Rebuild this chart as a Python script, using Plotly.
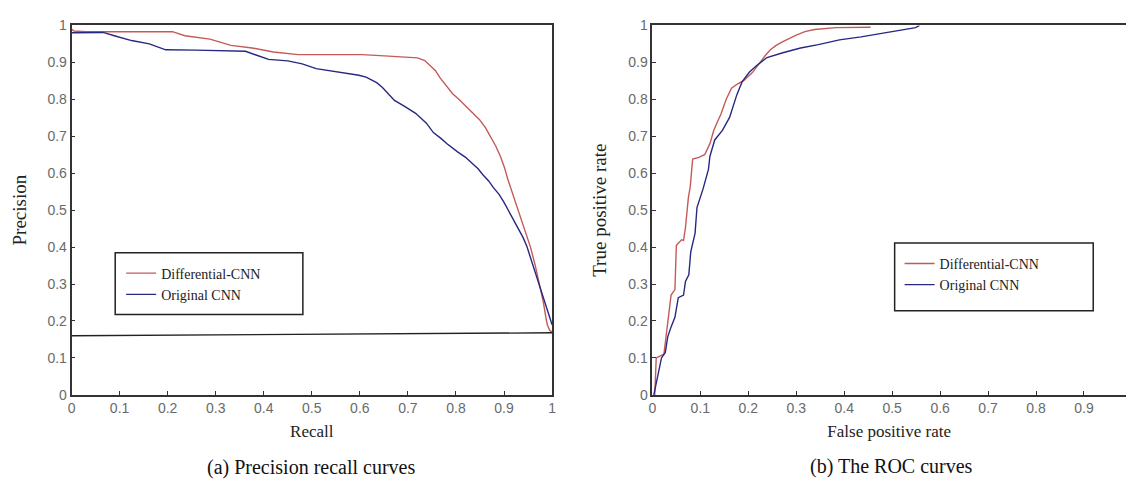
import plotly.graph_objects as go

# ---------------- data ----------------
pr_diff_recall = [0.0, 0.005, 0.03, 0.10, 0.21, 0.236, 0.288, 0.332, 0.376, 0.42, 0.472, 0.54,
                  0.605, 0.66, 0.70, 0.72, 0.735, 0.745, 0.757, 0.767, 0.78, 0.793, 0.806, 0.819,
                  0.834, 0.849, 0.861, 0.871, 0.883, 0.893, 0.901, 0.908, 0.917, 0.926, 0.935,
                  0.945, 0.955, 0.965, 0.974, 0.982, 0.987, 0.99, 0.995, 1.0]
pr_diff_precision = [0.99, 0.985, 0.983, 0.983, 0.983, 0.972, 0.963, 0.946, 0.939, 0.928, 0.921, 0.921,
                     0.921, 0.917, 0.913, 0.912, 0.905, 0.893, 0.878, 0.858, 0.837, 0.815, 0.80, 0.784,
                     0.765, 0.745, 0.724, 0.70, 0.673, 0.644, 0.615, 0.583, 0.548, 0.513, 0.48,
                     0.443, 0.40, 0.35, 0.30, 0.25, 0.21, 0.19, 0.175, 0.17]

pr_orig_recall = [0.0, 0.066, 0.089, 0.125, 0.162, 0.196, 0.258, 0.30, 0.362, 0.384, 0.41, 0.45,
                  0.48, 0.509, 0.546, 0.576, 0.598, 0.613, 0.625, 0.635, 0.647, 0.657, 0.672, 0.694,
                  0.716, 0.738, 0.753, 0.768, 0.782, 0.804, 0.82, 0.834, 0.846, 0.856, 0.868, 0.878,
                  0.89, 0.90, 0.915, 0.93, 0.94, 0.948, 0.96, 0.973, 0.984, 0.994, 1.0]
pr_orig_precision = [0.98, 0.981, 0.972, 0.959, 0.95, 0.934, 0.933, 0.931, 0.93, 0.92, 0.908, 0.904,
                     0.896, 0.883, 0.876, 0.87, 0.865, 0.86, 0.853, 0.845, 0.832, 0.819, 0.797, 0.78,
                     0.762, 0.736, 0.71, 0.695, 0.679, 0.657, 0.643, 0.626, 0.612, 0.596, 0.579, 0.561,
                     0.542, 0.521, 0.486, 0.451, 0.425, 0.40, 0.35, 0.30, 0.25, 0.21, 0.19]

baseline_recall = [0.0, 1.0]
baseline_precision = [0.16, 0.168]

roc_diff_fpr = [0.005, 0.008, 0.024, 0.032, 0.039, 0.047, 0.05, 0.061, 0.065, 0.069, 0.075, 0.079,
                0.084, 0.097, 0.109, 0.12, 0.128, 0.136, 0.143, 0.154, 0.165, 0.178, 0.191, 0.209,
                0.224, 0.235, 0.246, 0.258, 0.272, 0.286, 0.30, 0.318, 0.338, 0.383, 0.455]
roc_diff_tpr = [0.0, 0.10, 0.11, 0.19, 0.27, 0.285, 0.405, 0.42, 0.418, 0.453, 0.533, 0.564,
                0.638, 0.643, 0.65, 0.68, 0.716, 0.74, 0.76, 0.80, 0.83, 0.842, 0.851, 0.873,
                0.90, 0.918, 0.934, 0.946, 0.956, 0.966, 0.974, 0.983, 0.989, 0.994, 0.995]

roc_orig_fpr = [0.003, 0.01, 0.019, 0.027, 0.032, 0.039, 0.047, 0.054, 0.065, 0.069, 0.076, 0.08,
                0.086, 0.089, 0.093, 0.106, 0.117, 0.12, 0.13, 0.146, 0.161, 0.172, 0.176,
                0.187, 0.202, 0.217, 0.239, 0.272, 0.309, 0.346, 0.39, 0.435, 0.479, 0.523,
                0.549, 0.557]
roc_orig_tpr = [0.0, 0.045, 0.10, 0.115, 0.157, 0.184, 0.21, 0.263, 0.27, 0.307, 0.325, 0.387,
                0.42, 0.437, 0.507, 0.559, 0.611, 0.646, 0.69, 0.716, 0.751, 0.795, 0.812,
                0.847, 0.873, 0.891, 0.913, 0.926, 0.939, 0.948, 0.961, 0.969, 0.978, 0.987,
                0.994, 1.0]

tick_vals = [0, 0.1, 0.2, 0.3, 0.4, 0.5, 0.6, 0.7, 0.8, 0.9, 1]
tick_text = ["0", "0.1", "0.2", "0.3", "0.4", "0.5", "0.6", "0.7", "0.8", "0.9", "1"]

names = ["Differential-CNN", "Original CNN"]

# ---------------- styling ----------------
W, H = 1130, 488
RED = "rgb(196,90,88)"
BLUE = "rgb(40,40,130)"
AX = "#333333"
TICKFONT = dict(family="Liberation Sans, Arial, sans-serif", size=14, color="#6a6a6a")
XTITLEFONT = dict(family="Liberation Serif, Times New Roman, serif", size=17, color="#222222")
YTITLEFONT = dict(family="Liberation Serif, Times New Roman, serif", size=19, color="#222222")
LEGFONT = dict(family="Liberation Serif, Times New Roman, serif", size=14, color="#222222")


def px_x(p):
    return p / W


def px_y(p):
    return 1 - p / H


fig = go.Figure()

# left subplot
fig.add_trace(go.Scatter(x=pr_diff_recall, y=pr_diff_precision, mode="lines", name=names[0],
                         line=dict(color=RED, width=1.4), xaxis="x", yaxis="y", legend="legend"))
fig.add_trace(go.Scatter(x=pr_orig_recall, y=pr_orig_precision, mode="lines", name=names[1],
                         line=dict(color=BLUE, width=1.4), xaxis="x", yaxis="y", legend="legend"))
fig.add_trace(go.Scatter(x=baseline_recall, y=baseline_precision, mode="lines", showlegend=False,
                         line=dict(color="#222222", width=1.4), xaxis="x", yaxis="y"))

# right subplot
fig.add_trace(go.Scatter(x=roc_diff_fpr, y=roc_diff_tpr, mode="lines", name=names[0],
                         line=dict(color=RED, width=1.4), xaxis="x2", yaxis="y2", legend="legend2"))
fig.add_trace(go.Scatter(x=roc_orig_fpr, y=roc_orig_tpr, mode="lines", name=names[1],
                         line=dict(color=BLUE, width=1.4), xaxis="x2", yaxis="y2", legend="legend2"))

ydom = [px_y(400), px_y(18)]
common_axis = dict(showgrid=False, zeroline=False, showline=True, linecolor=AX, linewidth=1.6,
                   ticks="inside", ticklen=4, tickwidth=1.2, tickcolor=AX, tickfont=TICKFONT,
                   tickvals=tick_vals, ticktext=tick_text)

fig.update_layout(
    width=W, height=H,
    margin=dict(l=0, r=0, t=0, b=0),
    paper_bgcolor="white", plot_bgcolor="white",
    xaxis=dict(domain=[px_x(68), px_x(552)], range=[0, 1], mirror=True, anchor="y",
               title=dict(text="Recall", font=XTITLEFONT, standoff=10), **common_axis),
    yaxis=dict(domain=ydom, range=[0, 1], mirror=True, anchor="x",
               title=dict(text="Precision", font=YTITLEFONT, standoff=16), **common_axis),
    xaxis2=dict(domain=[px_x(653), 1.0], range=[0, (W - 653) / 483.0], mirror=True, anchor="y2",
                title=dict(text="False positive rate", font=XTITLEFONT, standoff=10), **common_axis),
    yaxis2=dict(domain=ydom, range=[0, 1], mirror=False, anchor="x2",
                title=dict(text="True positive rate", font=YTITLEFONT, standoff=17), **common_axis),
    legend=dict(x=px_x(118), y=px_y(258), xanchor="left", yanchor="top", bgcolor="rgba(0,0,0,0)",
                borderwidth=0, font=LEGFONT, tracegroupgap=0, itemwidth=30),
    legend2=dict(x=px_x(902), y=px_y(248), xanchor="left", yanchor="top", bgcolor="rgba(0,0,0,0)",
                 borderwidth=0, font=LEGFONT, tracegroupgap=0, itemwidth=30),
    shapes=[
        dict(type="rect", xref="paper", yref="paper", x0=px_x(112), x1=px_x(301),
             y0=px_y(317), y1=px_y(253), line=dict(color="#222222", width=1.5), fillcolor="rgba(0,0,0,0)"),
        dict(type="rect", xref="paper", yref="paper", x0=px_x(897), x1=px_x(1097),
             y0=px_y(313), y1=px_y(243), line=dict(color="#222222", width=1.5), fillcolor="rgba(0,0,0,0)"),
    ],
    annotations=[
        dict(text="(a) Precision recall curves", x=px_x(309), y=px_y(475), xref="paper", yref="paper",
             showarrow=False, xanchor="center", yanchor="middle",
             font=dict(family="Liberation Serif, Times New Roman, serif", size=20, color="#111111")),
        dict(text="(b) The ROC curves", x=px_x(894), y=px_y(474), xref="paper", yref="paper",
             showarrow=False, xanchor="center", yanchor="middle",
             font=dict(family="Liberation Serif, Times New Roman, serif", size=20, color="#111111")),
    ],
)

fig.write_html("out.html",
               config={"displayModeBar": False},
               post_script="document.body.style.margin='0';document.body.style.overflow='hidden';")
